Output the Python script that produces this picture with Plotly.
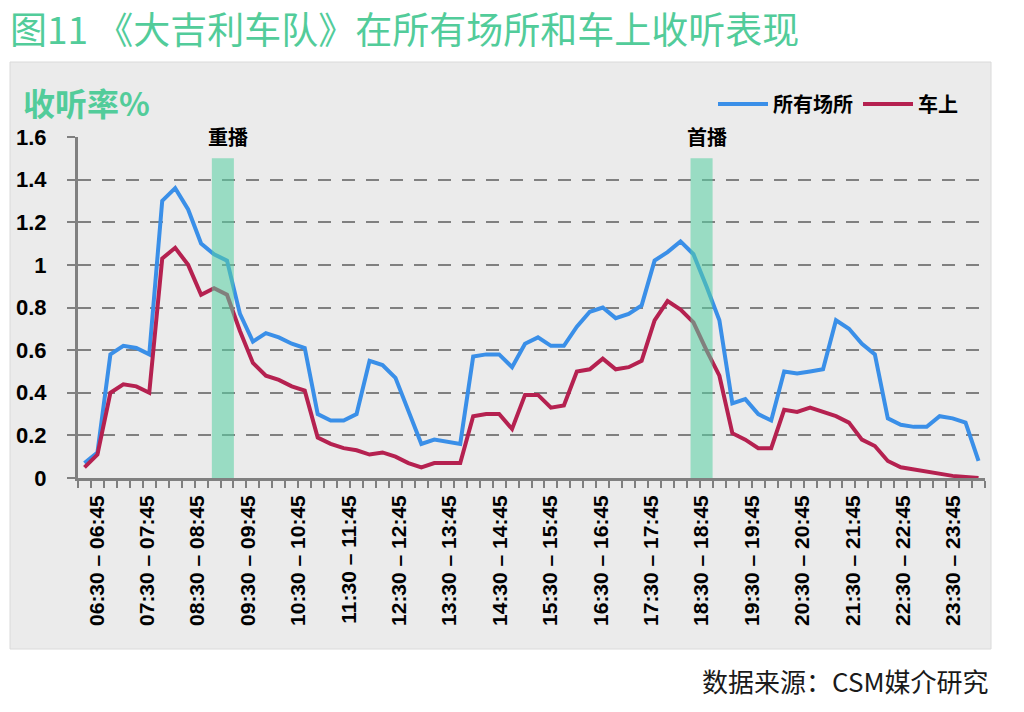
import plotly.graph_objects as go

# ---------------- data ----------------
def make_slots(start_minute, count):
    out = []
    for k in range(count):
        a = start_minute + 15 * k
        b = a + 15
        out.append(f"{a // 60:02d}:{a % 60:02d} – {b // 60:02d}:{b % 60:02d}")
    return out

# 15-minute slots of the two rating lines (06:30 – 24:00)
LINE_SLOTS = make_slots(6 * 60 + 30, 70)
# category slots of the labelled horizontal axis
AXIS_SLOTS = make_slots(6 * 60 + 15, 72)
TICK_LABELS = [s for s in AXIS_SLOTS if s[3:5] == "30"]

SERIES_NAMES = ["所有场所", "车上"]

ALL_PLACES = [
    0.07, 0.12, 0.58, 0.62, 0.61, 0.58, 1.30, 1.36, 1.26, 1.10,
    1.05, 1.02, 0.77, 0.64, 0.68, 0.66, 0.63, 0.61, 0.30, 0.27,
    0.27, 0.30, 0.55, 0.53, 0.47, 0.32, 0.16, 0.18, 0.17, 0.16,
    0.57, 0.58, 0.58, 0.52, 0.63, 0.66, 0.62, 0.62, 0.71, 0.78,
    0.80, 0.75, 0.77, 0.81, 1.02, 1.06, 1.11, 1.05, 0.90, 0.74,
    0.35, 0.37, 0.30, 0.27, 0.50, 0.49, 0.50, 0.51, 0.74, 0.70,
    0.63, 0.58, 0.28, 0.25, 0.24, 0.24, 0.29, 0.28, 0.26, 0.08,
]

IN_CAR = [
    0.05, 0.11, 0.40, 0.44, 0.43, 0.40, 1.03, 1.08, 1.00, 0.86,
    0.89, 0.86, 0.69, 0.54, 0.48, 0.46, 0.43, 0.41, 0.19, 0.16,
    0.14, 0.13, 0.11, 0.12, 0.10, 0.07, 0.05, 0.07, 0.07, 0.07,
    0.29, 0.30, 0.30, 0.23, 0.39, 0.39, 0.33, 0.34, 0.50, 0.51,
    0.56, 0.51, 0.52, 0.55, 0.74, 0.83, 0.79, 0.73, 0.60, 0.48,
    0.21, 0.18, 0.14, 0.14, 0.32, 0.31, 0.33, 0.31, 0.29, 0.26,
    0.18, 0.15, 0.08, 0.05, 0.04, 0.03, 0.02, 0.01, 0.005, 0.0,
]

BAND_SLOTS = ["09:00 – 09:15", "18:30 – 18:45"]
BAND_NAMES = ["重播", "首播"]
BAND_HEIGHT = [1.5, 1.5]

TITLE = "图11 《大吉利车队》在所有场所和车上收听表现"
Y_TITLE = "收听率%"
SOURCE = "数据来源：CSM媒介研究"

# ---------------- layout helpers ----------------
W, H = 1024, 712
ML, MR, MT, MB = 78, 39, 137, 234


def px(xp):
    return (xp - ML) / (W - ML - MR)


def py(yp):
    return (H - MB - yp) / (H - MT - MB)


BLUE = "#3a8fe8"
RED = "#b52150"
GREEN = "#52cc9a"
AXIS_GRAY = "#808080"
PANEL = "#ebebeb"
CJK = "Noto Sans CJK SC"
LAT = "Liberation Sans, Arial"

fig = go.Figure()
fig.add_trace(go.Scatter(
    x=LINE_SLOTS, y=ALL_PLACES, name=SERIES_NAMES[0], mode="lines",
    line=dict(color=BLUE, width=4), xaxis="x", yaxis="y",
))
fig.add_trace(go.Scatter(
    x=LINE_SLOTS, y=IN_CAR, name=SERIES_NAMES[1], mode="lines",
    line=dict(color=RED, width=4), xaxis="x", yaxis="y",
))
fig.add_trace(go.Bar(
    x=BAND_SLOTS, y=BAND_HEIGHT, width=1.75, opacity=0.55,
    marker=dict(color="rgb(85,208,163)", line=dict(width=0)),
    xaxis="x2", yaxis="y2", showlegend=False, hoverinfo="skip",
))

annotations = []
for slot, name, h in zip(BAND_SLOTS, BAND_NAMES, BAND_HEIGHT):
    annotations.append(dict(
        x=slot, y=h, xref="x2", yref="y2", text=name, showarrow=False,
        yanchor="bottom", xanchor="center", yshift=5, xshift=5,
        font=dict(family=CJK, size=20, color="black", weight="bold"),
    ))
annotations.append(dict(
    x=px(21), y=py(102), xref="paper", yref="paper", text=Y_TITLE,
    showarrow=False, xanchor="left", yanchor="middle",
    font=dict(family=CJK, size=32, color=GREEN, weight="bold"),
))
annotations.append(dict(
    x=px(991), y=py(680), xref="paper", yref="paper", text=SOURCE,
    showarrow=False, xanchor="right", yanchor="middle",
    font=dict(family=CJK, size=26, color="#1a1a1a"),
))

shapes = [dict(
    type="rect", xref="paper", yref="paper", layer="below",
    x0=px(10), x1=px(991), y0=py(649), y1=py(62),
    fillcolor=PANEL, line=dict(color="#dadada", width=1),
)]

fig.update_layout(
    width=W, height=H,
    margin=dict(l=ML, r=MR, t=MT, b=MB, autoexpand=False),
    paper_bgcolor="white", plot_bgcolor="rgba(0,0,0,0)",
    title=dict(
        text=TITLE, xref="container", yref="container",
        x=10 / W, y=1 - 31 / H, xanchor="left", yanchor="middle",
        font=dict(family=CJK, size=37, color=GREEN),
    ),
    xaxis=dict(
        type="category", categoryorder="array", categoryarray=LINE_SLOTS,
        range=[-0.5, len(LINE_SLOTS) - 0.5],
        tickmode="linear", tick0=0, dtick=1, tickson="boundaries",
        ticks="outside", ticklen=7, tickwidth=2, tickcolor=AXIS_GRAY,
        showticklabels=False, showline=True, linewidth=3, linecolor=AXIS_GRAY,
        showgrid=False, zeroline=False,
    ),
    xaxis2=dict(
        type="category", categoryorder="array", categoryarray=AXIS_SLOTS,
        range=[-0.5, len(AXIS_SLOTS) - 0.5], overlaying="x", side="bottom",
        anchor="y2", tickmode="array", tickvals=TICK_LABELS, ticktext=TICK_LABELS,
        tickangle=-90, ticks="", ticklabelstandoff=12,
        tickfont=dict(family=LAT, size=21, color="black", weight="bold"),
        showline=False, showgrid=False, zeroline=False,
    ),
    yaxis=dict(
        range=[0, 1.6], tick0=0, dtick=0.2,
        showgrid=True, gridcolor=AXIS_GRAY, gridwidth=2, griddash="13px,11px",
        showline=True, linewidth=3, linecolor=AXIS_GRAY,
        ticks="outside", ticklen=8, tickwidth=2, tickcolor=AXIS_GRAY,
        ticklabelstandoff=16,
        tickfont=dict(family=LAT, size=22, color="black", weight="bold"),
        zeroline=False,
    ),
    yaxis2=dict(range=[0, 1.6], overlaying="y", visible=False),
    legend=dict(
        orientation="h", x=px(963), xanchor="right", y=py(104), yanchor="middle",
        font=dict(family=CJK, size=20, color="black", weight="bold"),
        bgcolor="rgba(0,0,0,0)", itemwidth=50, traceorder="normal",
    ),
    annotations=annotations,
    shapes=shapes,
    showlegend=True,
)

fig.write_html(
    "out.html",
    config={"displayModeBar": False},
    post_script="document.body.style.margin='0';document.body.style.padding='0';",
)
